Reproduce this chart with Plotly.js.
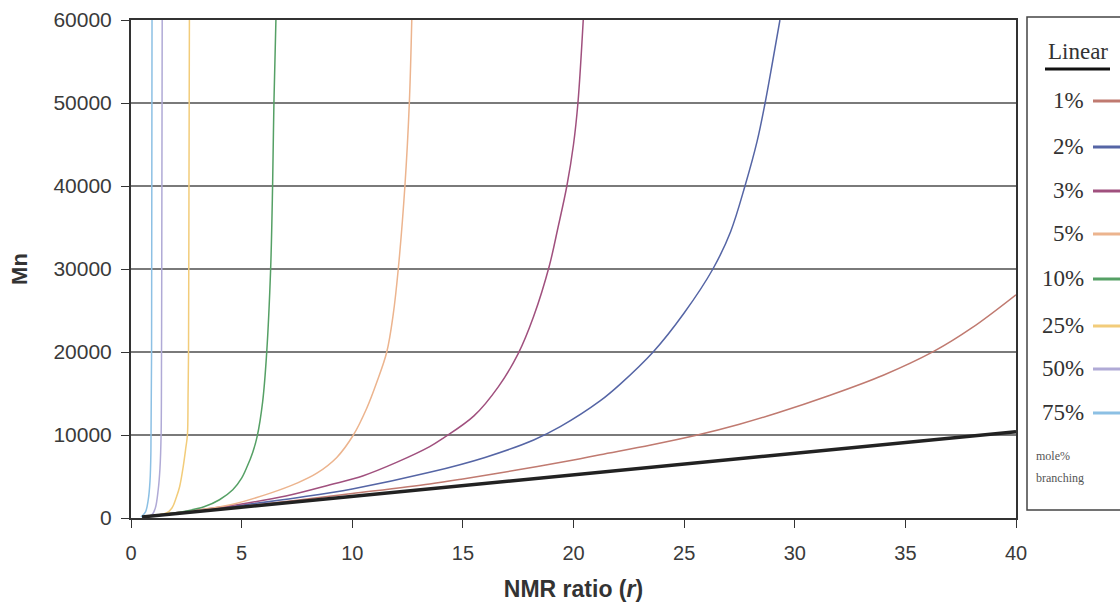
<!DOCTYPE html>
<html>
<head>
<meta charset="utf-8">
<script src="https://cdn.plot.ly/plotly-3.0.1.min.js"></script>
<style>html,body{margin:0;padding:0;background:#fff;}#chart{width:1120px;height:602px;}</style>
</head>
<body>
<div id="chart"></div>
<script>
// Series data (x = NMR ratio r, y = Mn)
const linearX = [0.5, 10, 20, 30, 40];
const linearY = [130, 2600, 5200, 7800, 10400];

const b1X = [0.5, 2.5, 5, 7.5, 10, 13.5, 15, 17.5, 20, 21.2, 23.5, 25.6, 27.5, 29.2, 31.5, 34, 36.3, 38, 40];
const b1Y = [135, 680, 1400, 2150, 2950, 4100, 4700, 5800, 7000, 7630, 8800, 10000, 11300, 12650, 14700, 17200, 20100, 22900, 26900];

const b2X = [0.5, 2.5, 5, 7.5, 10, 13.5, 16, 18.2, 19.4, 21.2, 22.1, 23.6, 25, 26.3, 27.1, 27.75, 28.3, 28.66, 29.0, 29.33];
const b2Y = [135, 720, 1550, 2450, 3500, 5500, 7300, 9400, 11000, 14100, 16100, 20000, 24700, 30000, 34500, 40000, 45400, 50000, 55000, 60000];

const b3X = [0.5, 2.5, 5, 7, 9, 10.5, 12, 13.5, 14.1, 15.5, 16.6, 17.5, 18.2, 18.9, 19.3, 19.7, 20.0, 20.2, 20.44];
const b3Y = [140, 780, 1700, 2650, 4000, 5100, 6700, 8600, 9600, 12300, 15800, 19800, 24300, 30300, 35000, 40000, 45000, 50000, 60000];

const b5X = [0.5, 2.5, 4.5, 6.3, 7.5, 8.4, 9.3, 10.05, 10.65, 11.1, 11.56, 11.85, 12.08, 12.38, 12.58, 12.69];
const b5Y = [140, 780, 1600, 3000, 4200, 5400, 7300, 10000, 13200, 16300, 20000, 24500, 30000, 40000, 50000, 60000];

const b10X = [0.5, 1.5, 2.5, 3.3, 4.0, 4.6, 5.0, 5.25, 5.5, 5.7, 5.95, 6.13, 6.31, 6.4, 6.46, 6.55];
const b10Y = [140, 450, 850, 1350, 2200, 3400, 4800, 6200, 7900, 9800, 14000, 19800, 29900, 40000, 50000, 60000];

const b25X = [0.5, 1.2, 1.6, 1.85, 2.05, 2.2, 2.36, 2.48, 2.55, 2.58, 2.6, 2.62, 2.64];
const b25Y = [140, 380, 600, 1200, 2500, 3800, 6200, 8500, 10000, 15000, 20000, 40000, 60000];

const b50X = [0.5, 0.8, 0.95, 1.1, 1.23, 1.31, 1.36, 1.38, 1.39, 1.41];
const b50Y = [130, 260, 400, 1200, 3400, 6000, 10000, 20000, 30000, 60000];

const b75X = [0.45, 0.65, 0.78, 0.86, 0.9, 0.93, 0.95];
const b75Y = [120, 700, 2200, 4500, 8000, 20000, 60000];

const seriesNames = ['1%', '2%', '3%', '5%', '10%', '25%', '50%', '75%'];
const seriesX = [b1X, b2X, b3X, b5X, b10X, b25X, b50X, b75X];
const seriesY = [b1Y, b2Y, b3Y, b5Y, b10Y, b25Y, b50Y, b75Y];
const seriesColors = ['#c07a70', '#5565a5', '#a0507e', '#ecb48e', '#55a065', '#f2cc7a', '#b0aad6', '#8cc0e4'];

const xTickVals = [0, 5, 10, 15, 20, 25, 30, 35, 40];
const yTickVals = [0, 10000, 20000, 30000, 40000, 50000, 60000];

// plot area geometry helpers (paper coords)
const L = 131, R = 1016, T = 20, B = 518;
const px = v => (v - L) / (R - L);
const py = v => (B - v) / (B - T);

const traces = [];
seriesNames.forEach((n, i) => {
  traces.push({
    x: seriesX[i], y: seriesY[i], type: 'scatter', mode: 'lines', name: n,
    line: {color: seriesColors[i], width: 1.5, shape: 'spline', smoothing: 1},
    showlegend: false
  });
});
traces.push({
  x: linearX, y: linearY, type: 'scatter', mode: 'lines', name: 'Linear',
  line: {color: '#222222', width: 3.5}, showlegend: false
});

// manual legend (reference legend box is cut off at the right edge)
const serif = 'Liberation Serif, Times New Roman, serif';
const shapes = [{
  type: 'rect', xref: 'paper', yref: 'paper',
  x0: px(1027), x1: px(1128), y0: py(510), y1: py(17),
  line: {color: '#444', width: 1.5}, fillcolor: 'rgba(0,0,0,0)'
}, {
  type: 'line', xref: 'paper', yref: 'paper',
  x0: px(1045), x1: px(1110), y0: py(69), y1: py(69),
  line: {color: '#111', width: 3}
}];
const annotations = [{
  xref: 'paper', yref: 'paper', x: px(1078), y: py(51), xanchor: 'center', yanchor: 'middle',
  text: 'Linear', showarrow: false, font: {family: serif, size: 23, color: '#333'}
}];
const legendY = [100, 146, 190, 233, 278, 325, 368, 412];
seriesNames.forEach((n, i) => {
  annotations.push({
    xref: 'paper', yref: 'paper', x: px(1086), y: py(legendY[i]), xanchor: 'right', yanchor: 'middle',
    text: n, showarrow: false, font: {family: serif, size: 23, color: '#333'}
  });
  shapes.push({
    type: 'line', xref: 'paper', yref: 'paper',
    x0: px(1093), x1: px(1128), y0: py(legendY[i] + 1), y1: py(legendY[i] + 1),
    line: {color: seriesColors[i], width: 3}
  });
});
annotations.push({
  xref: 'paper', yref: 'paper', x: px(1034), y: py(456), xanchor: 'left', yanchor: 'middle',
  text: 'mole%', showarrow: false, font: {family: serif, size: 12, color: '#555'}
}, {
  xref: 'paper', yref: 'paper', x: px(1034), y: py(478), xanchor: 'left', yanchor: 'middle',
  text: 'branching', showarrow: false, font: {family: serif, size: 12, color: '#555'}
});

const layout = {
  width: 1120, height: 602,
  margin: {l: L, r: 1120 - R, t: T, b: 602 - B, pad: 0},
  paper_bgcolor: '#fff', plot_bgcolor: '#fff',
  font: {family: 'Liberation Sans, Arial, sans-serif', color: '#333'},
  xaxis: {
    range: [0, 40], tickvals: xTickVals, ticks: 'outside', ticklen: 8, tickcolor: '#333',
    ticklabelstandoff: 8,
    showgrid: false, zeroline: false, showline: true, linecolor: '#333', linewidth: 2, mirror: true,
    tickfont: {size: 20, color: '#3a3a3a'},
    title: {text: '<b>NMR ratio (<i>r</i>)</b>', font: {size: 23, color: '#333'}, standoff: 22}
  },
  yaxis: {
    range: [0, 60000], tickvals: yTickVals, tickformat: 'd', ticks: 'outside', ticklen: 8, tickcolor: '#333',
    ticklabelstandoff: 5,
    showgrid: true, gridcolor: '#7a7a7a', gridwidth: 1.2, zeroline: false,
    showline: true, linecolor: '#333', linewidth: 2, mirror: true,
    tickfont: {size: 21, color: '#3a3a3a'},
    title: {text: '<b>Mn</b>', font: {size: 22, color: '#333'}, standoff: 20}
  },
  shapes: shapes, annotations: annotations, showlegend: false
};

Plotly.newPlot('chart', traces, layout, {displayModeBar: false, staticPlot: true});
</script>
</body>
</html>
